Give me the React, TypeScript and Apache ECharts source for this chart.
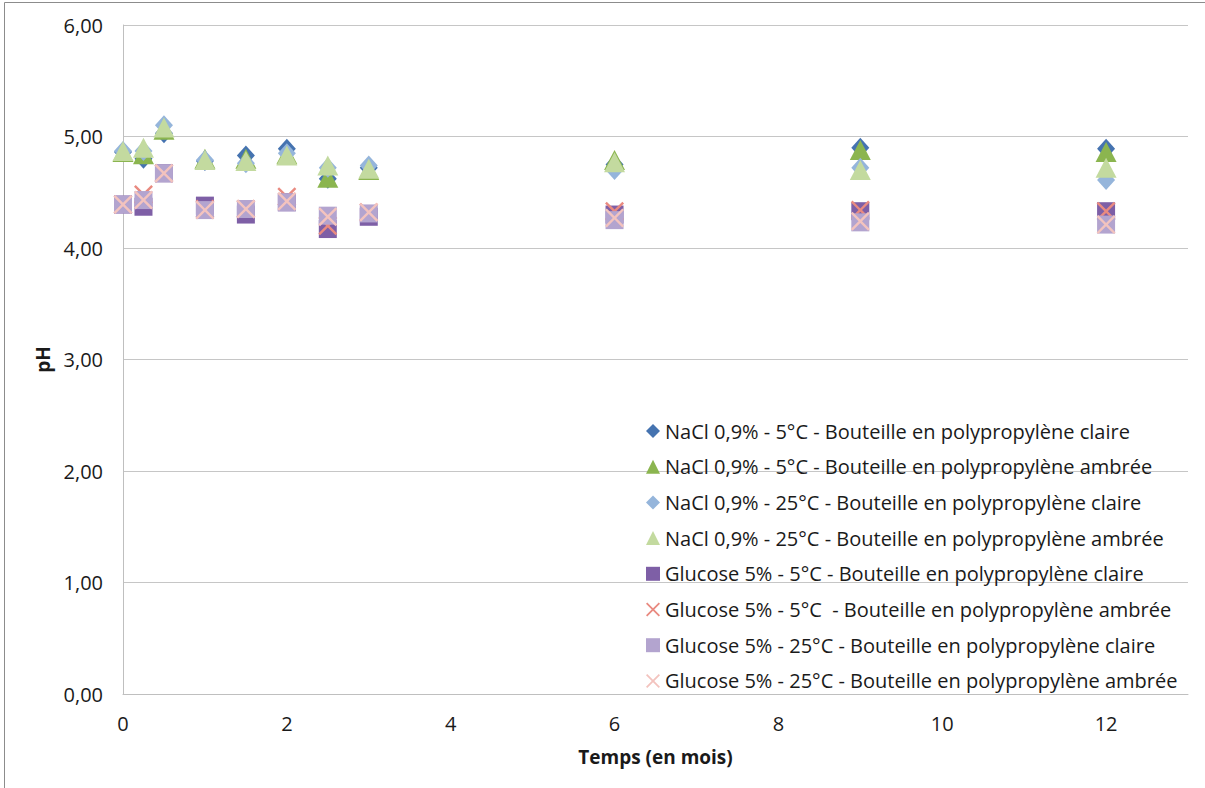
import React, { useEffect, useRef } from "react";
import * as echarts from "echarts";

const time = [0, 0.25, 0.5, 1, 1.5, 2, 2.5, 3, 6, 9, 12];
const nacl5Clear = [4.86, 4.8, 5.03, 4.78, 4.83, 4.89, 4.62, 4.72, 4.75, 4.9, 4.89];
const nacl5Amber = [4.86, 4.84, 5.06, 4.8, 4.8, 4.84, 4.63, 4.7, 4.79, 4.88, 4.86];
const nacl25Clear = [4.87, 4.87, 5.1, 4.79, 4.76, 4.85, 4.72, 4.74, 4.7, 4.72, 4.61];
const nacl25Amber = [4.87, 4.9, 5.08, 4.79, 4.78, 4.83, 4.74, 4.71, 4.77, 4.7, 4.72];
const glu5Clear = [4.39, 4.37, 4.67, 4.38, 4.3, 4.41, 4.17, 4.28, 4.3, 4.33, 4.33];
const glu5Amber = [4.39, 4.48, 4.67, 4.35, 4.35, 4.46, 4.2, 4.32, 4.33, 4.34, 4.33];
const glu25Clear = [4.39, 4.43, 4.67, 4.34, 4.35, 4.41, 4.29, 4.31, 4.25, 4.23, 4.21];
const glu25Amber = [4.39, 4.43, 4.67, 4.34, 4.35, 4.42, 4.28, 4.32, 4.27, 4.24, 4.21];

const seriesNames = [
  "NaCl 0,9% - 5°C - Bouteille en polypropylène claire",
  "NaCl 0,9% - 5°C - Bouteille en polypropylène ambrée",
  "NaCl 0,9% - 25°C - Bouteille en polypropylène claire",
  "NaCl 0,9% - 25°C - Bouteille en polypropylène ambrée",
  "Glucose 5% - 5°C - Bouteille en polypropylène claire",
  "Glucose 5% - 5°C  - Bouteille en polypropylène ambrée",
  "Glucose 5% - 25°C - Bouteille en polypropylène claire",
  "Glucose 5% - 25°C - Bouteille en polypropylène ambrée",
];
const seriesValues = [nacl5Clear, nacl5Amber, nacl25Clear, nacl25Amber, glu5Clear, glu5Amber, glu25Clear, glu25Amber];
const seriesColors = ["#4573B0", "#8BB54F", "#95B5DB", "#C3DA9F", "#7E5FA6", "#E98A80", "#B3A4CF", "#F3C3BE"];

const XPATH =
  "path://M0,0.9L0.9,0L5,4.1L9.1,0L10,0.9L5.9,5L10,9.1L9.1,10L5,5.9L0.9,10L0,9.1L4.1,5Z";
const symbols = ["diamond", "triangle", "diamond", "triangle", "rect", XPATH, "rect", XPATH];
const sizes: any[] = [[18, 20], [21, 20], [18, 20], [21, 20], [18, 18], [19, 19], [18, 18], [19, 19]];

const FONT = "'Open Sans', sans-serif";

export default function App() {
  const ref = useRef<HTMLDivElement>(null);
  useEffect(() => {
    const chart = echarts.init(ref.current!, null, { renderer: "svg" });
    chart.setOption({
      animation: false,
      backgroundColor: "#ffffff",
      textStyle: { fontFamily: FONT },
      graphic: [
        {
          type: "rect",
          shape: { x: 4.5, y: 2.5, width: 1400, height: 1000 },
          style: { fill: "none", stroke: "#8c8c8c", lineWidth: 1 },
          silent: true,
        },
      ],
      grid: { left: 123, top: 25, right: 17, bottom: 94 },
      legend: {
        orient: "vertical",
        left: 641,
        top: 416,
        itemWidth: 14,
        itemHeight: 14,
        itemGap: 15.7,
        textStyle: { fontFamily: FONT, fontSize: 20, lineHeight: 20, color: "#1a1a1a" },
        data: seriesNames.map((n, i) => ({
          name: n,
          icon: symbols[i],
        })),
      },
      xAxis: {
        type: "value",
        min: 0,
        max: 13,
        interval: 2,
        name: "Temps (en mois)",
        nameLocation: "middle",
        nameGap: 53,
        nameTextStyle: { fontFamily: FONT, fontSize: 19, fontWeight: "bold", color: "#1a1a1a" },
        axisLine: { show: true, lineStyle: { color: "#bfbfbf", width: 1 } },
        axisTick: { show: false },
        splitLine: { show: false },
        axisLabel: {
          margin: 19,
          fontSize: 20,
          color: "#1a1a1a",
          fontFamily: FONT,
          formatter: (v: number) => (v % 2 === 0 ? String(v) : ""),
        },
      },
      yAxis: {
        type: "value",
        min: 0,
        max: 6,
        interval: 1,
        name: "pH",
        nameLocation: "middle",
        nameGap: 71,
        nameTextStyle: { fontFamily: FONT, fontSize: 19, fontWeight: "bold", color: "#1a1a1a" },
        axisLine: { show: true, lineStyle: { color: "#bfbfbf", width: 1 } },
        axisTick: { show: false },
        splitLine: { show: true, lineStyle: { color: "#c6c6c6", width: 1 } },
        axisLabel: {
          margin: 20,
          fontSize: 20,
          color: "#1a1a1a",
          fontFamily: FONT,
          formatter: (v: number) => v.toFixed(2).replace(".", ","),
        },
      },
      series: seriesNames.map((n, i) => ({
        name: n,
        type: "scatter",
        symbol: symbols[i],
        symbolSize: sizes[i],
        itemStyle: { color: seriesColors[i], opacity: 1 },
        data: time.map((t, j) => [t, seriesValues[i][j]]),
      })),
    });
    return () => chart.dispose();
  }, []);
  return (
    <div
      ref={ref}
      style={{ position: "absolute", left: 0, top: 0, width: 1205, height: 788 }}
    />
  );
}
